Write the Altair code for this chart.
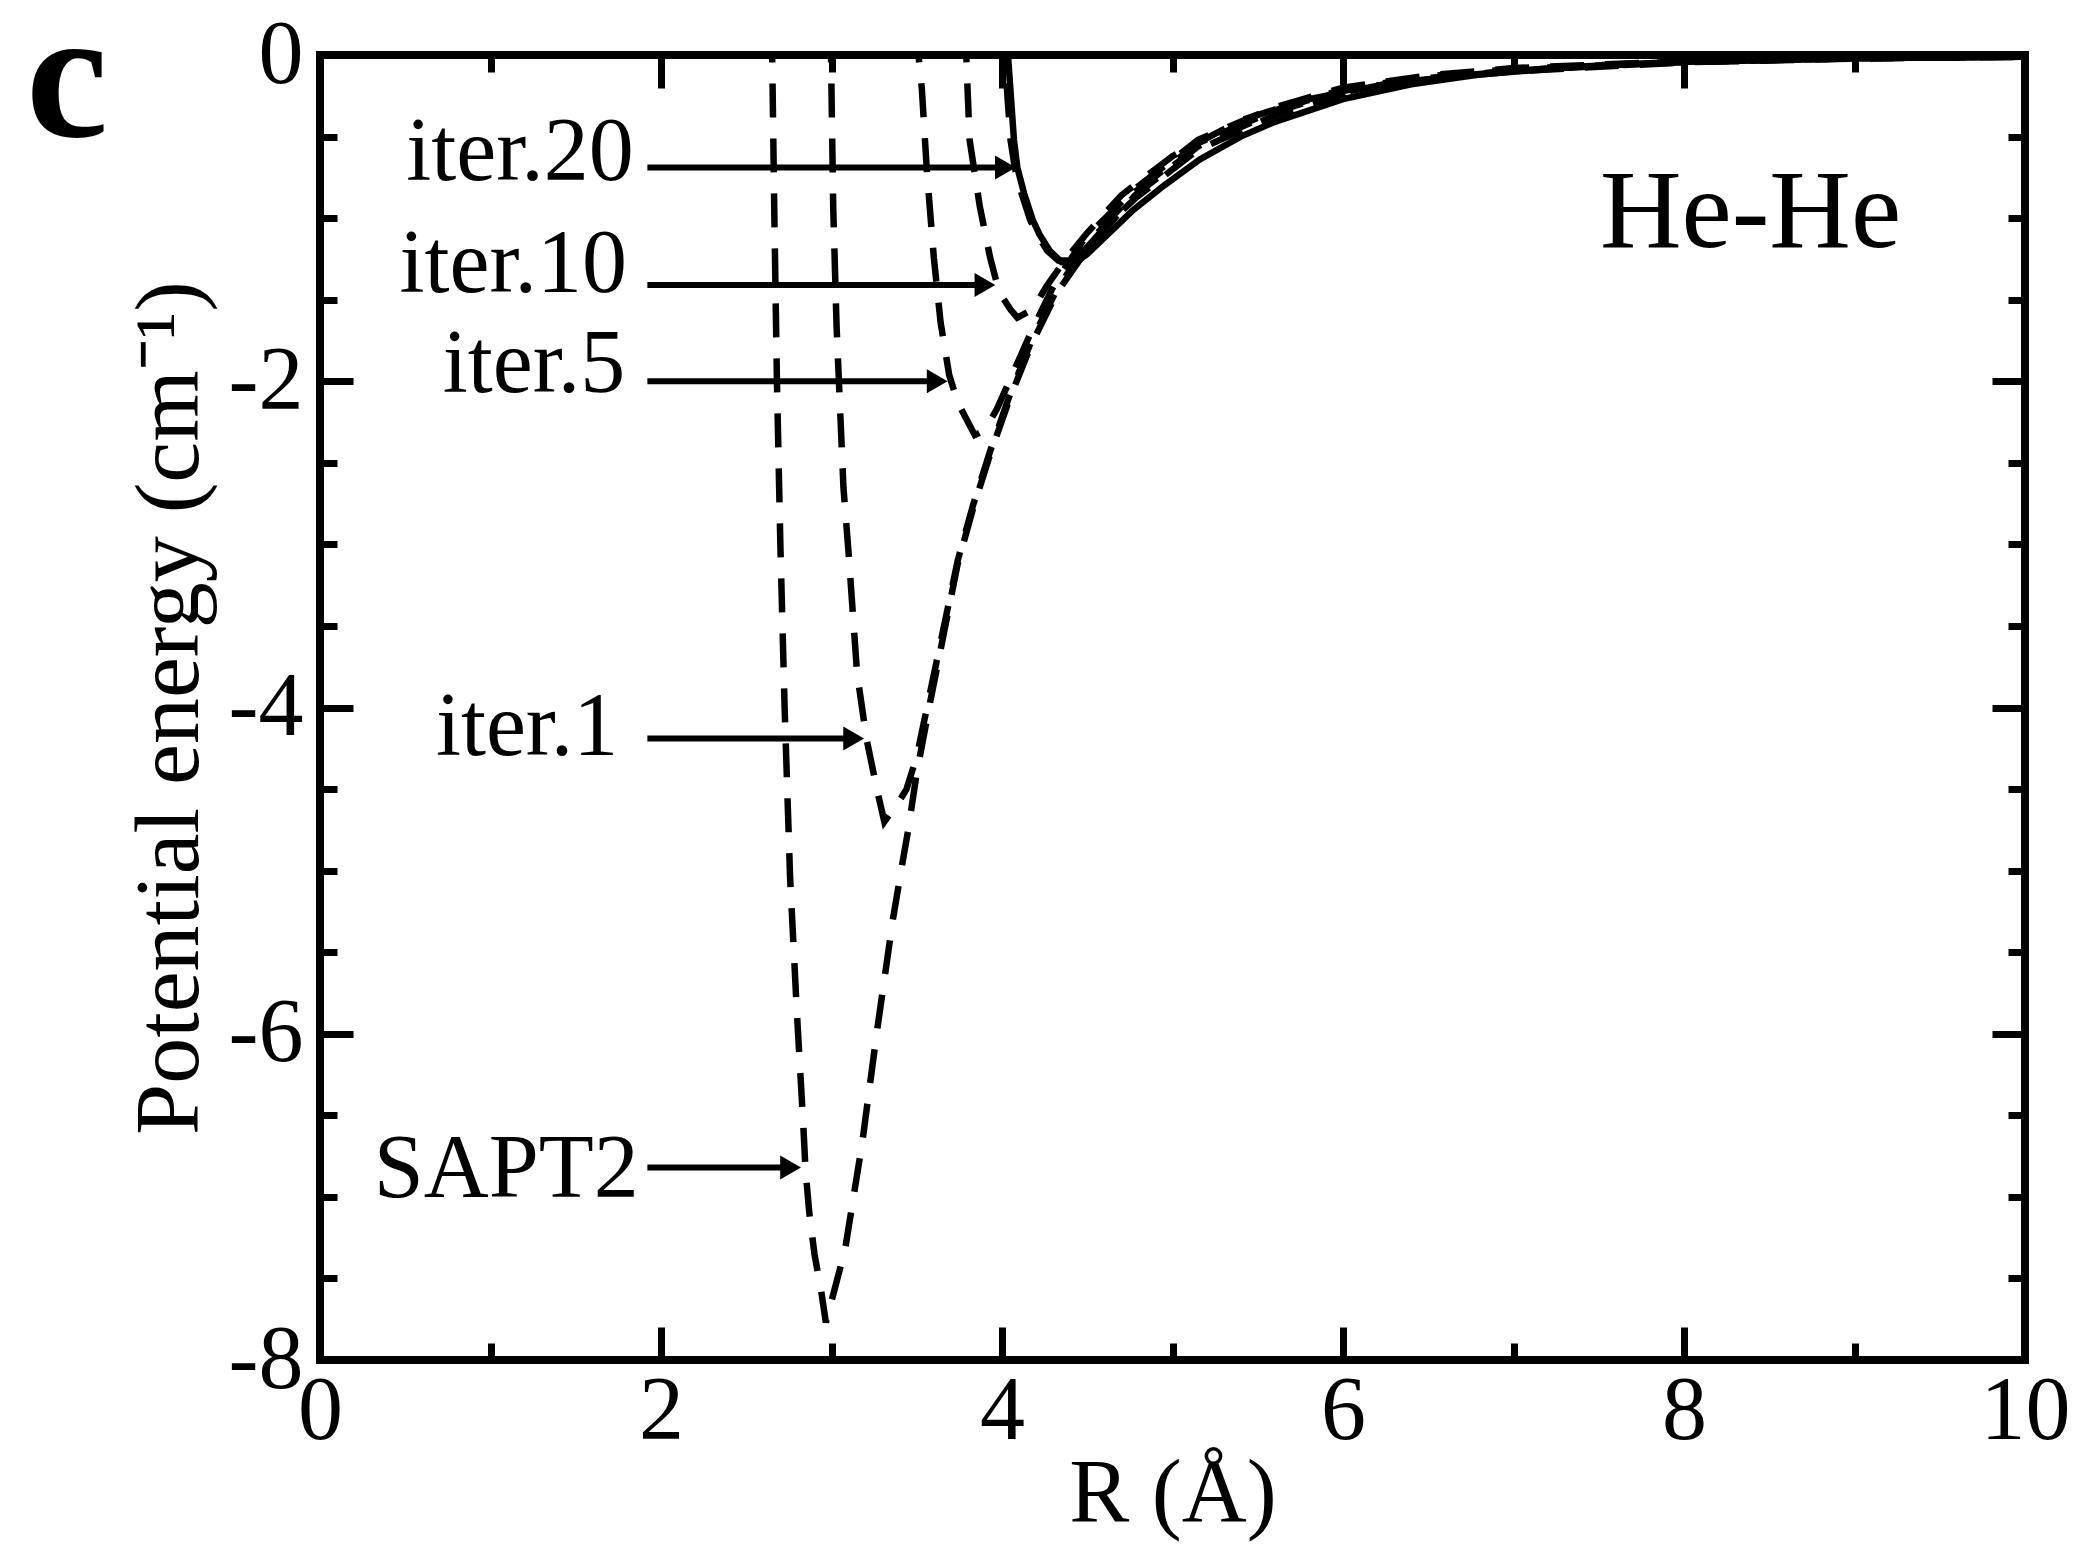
import altair as alt
import pandas as pd

FONT = "Liberation Serif"

# ---------------- curves (R in Angstrom, E in cm^-1) ----------------
sapt2_R = [2.645, 2.652, 2.665, 2.68, 2.70, 2.725, 2.757, 2.797, 2.835, 2.848, 2.87, 2.90, 2.94, 2.967,
           3.03, 3.08, 3.18, 3.27, 3.36, 3.41, 3.45, 3.50, 3.58, 3.66, 3.74, 3.83, 3.93, 4.04, 4.17,
           4.32, 4.50, 4.78, 5.15, 5.6, 6.0, 6.5, 7.0, 7.5, 8.0, 9.0, 10.0]
sapt2_E = [0.5, 0.0, -1.0, -2.0, -3.0, -4.0, -5.04, -5.87, -6.57, -6.84, -7.1, -7.35, -7.58, -7.77,
           -7.52, -7.32, -6.67, -5.96, -5.30, -4.99, -4.75, -4.40, -3.96, -3.54, -3.12, -2.78, -2.45, -2.12, -1.78,
           -1.46, -1.19, -0.86, -0.56, -0.35, -0.22, -0.14, -0.095, -0.065, -0.045, -0.022, -0.011]

iter1_R = [2.995, 2.997, 3.01, 3.03, 3.07, 3.10, 3.15, 3.205, 3.27, 3.31, 3.40, 3.44, 3.50, 3.58, 3.66,
           3.74, 3.83, 3.93, 4.04, 4.17, 4.32, 4.50, 4.78, 5.15, 5.6, 6.0, 6.5, 7.0, 8.0, 9.0, 10.0]
iter1_E = [0.5, 0.0, -0.93, -1.67, -2.65, -3.05, -3.79, -4.19, -4.52, -4.70, -4.57, -4.50, -4.30, -3.90, -3.50,
           -3.10, -2.76, -2.43, -2.10, -1.76, -1.44, -1.16, -0.84, -0.54, -0.34, -0.21, -0.13, -0.085, -0.04, -0.02, -0.01]

iter5_R = [3.505, 3.51, 3.53, 3.56, 3.60, 3.64, 3.69, 3.74, 3.84, 3.90, 3.97, 4.06, 4.17, 4.31, 4.48,
           4.78, 5.15, 5.6, 6.0, 6.5, 7.0, 8.0, 9.0, 10.0]
iter5_E = [0.5, 0.0, -0.21, -0.72, -1.24, -1.64, -1.96, -2.13, -2.33, -2.30, -2.17, -1.96, -1.70, -1.40, -1.13,
           -0.82, -0.52, -0.32, -0.20, -0.125, -0.08, -0.038, -0.018, -0.009]

iter10_R = [3.785, 3.79, 3.81, 3.87, 3.93, 3.97, 4.00, 4.05, 4.09, 4.18, 4.26, 4.36, 4.50, 4.70, 5.0,
            5.4, 5.8, 6.3, 7.0, 8.0, 9.0, 10.0]
iter10_E = [0.5, 0.0, -0.52, -0.93, -1.24, -1.40, -1.48, -1.56, -1.61, -1.56, -1.42, -1.27, -1.09, -0.86, -0.62,
            -0.40, -0.27, -0.17, -0.095, -0.042, -0.019, -0.009]

iter20_R = [4.00, 4.015, 4.05, 4.075, 4.115, 4.165, 4.205, 4.265, 4.33, 4.40, 4.48, 4.60, 4.78, 5.15,
            5.6, 6.0, 6.5, 7.0, 8.0, 9.0, 10.0]
iter20_E = [0.5, 0.0, -0.52, -0.69, -0.85, -1.01, -1.10, -1.20, -1.26, -1.26, -1.20, -1.06, -0.88, -0.58,
            -0.37, -0.24, -0.15, -0.10, -0.045, -0.02, -0.01]

solid_R = [4.025, 4.035, 4.07, 4.09, 4.13, 4.18, 4.22, 4.28, 4.35, 4.42, 4.50, 4.62, 4.77, 4.95, 5.16,
           5.40, 5.6, 6.0, 6.4, 6.8, 7.4, 8.0, 9.0, 10.0]
solid_E = [0.5, 0.0, -0.52, -0.69, -0.85, -1.01, -1.10, -1.20, -1.27, -1.28, -1.22, -1.10, -0.95, -0.80, -0.64,
           -0.50, -0.41, -0.27, -0.18, -0.12, -0.07, -0.04, -0.02, -0.01]

# ---------------- arrows and labels ----------------
arrow_labels = ["iter.20", "iter.10", "iter.5", "iter.1", "SAPT2"]
arrow_E = [-0.69, -1.41, -2.0, -4.19, -6.82]
arrow_start_R = [1.92, 1.92, 1.92, 1.92, 1.92]
arrow_tip_R = [4.09, 3.97, 3.69, 3.20, 2.83]
label_R = [1.84, 1.80, 1.79, 1.75, 1.87]
label_E = [-0.766, -1.453, -2.066, -4.29, -7.0]

x_major = [0, 2, 4, 6, 8, 10]
x_minor = [1, 3, 5, 7, 9]
y_major = [0, -2, -4, -6, -8]
y_minor = [-0.5, -1, -1.5, -2.5, -3, -3.5, -4.5, -5, -5.5, -6.5, -7, -7.5]

# ---------------- tables ----------------
series = [
    ("SAPT2", sapt2_R, sapt2_E, "dashed"),
    ("iter.1", iter1_R, iter1_E, "dashed"),
    ("iter.5", iter5_R, iter5_E, "dashed"),
    ("iter.10", iter10_R, iter10_E, "dashed"),
    ("iter.20", iter20_R, iter20_E, "dashed"),
    ("converged", solid_R, solid_E, "solid"),
]
rows = []
for name, rs, es, sty in series:
    for i, (r, e) in enumerate(zip(rs, es)):
        rows.append({"series": name, "R": r, "E": e, "idx": i, "style": sty})
curves = pd.DataFrame(rows)

arrows = pd.DataFrame({
    "label": arrow_labels, "E": arrow_E, "start": arrow_start_R, "tip": arrow_tip_R,
    "lx": label_R, "ly": label_E,
})

frame = pd.DataFrame({"R": [0, 10], "E": [0, -8]})

xscale = alt.Scale(domain=[0, 10], nice=False, zero=False)
yscale = alt.Scale(domain=[-8, 0], nice=False, zero=False)


def ax(orient, values, size, labels=False, title=None, tfs=92, **kw):
    args = dict(orient=orient, values=values, tickSize=size, offset=-size, domain=False,
                grid=False, ticks=True, tickColor="black", tickWidth=7, labels=labels)
    args["title"] = title
    if labels:
        args.update(labelFont=FONT, labelFontSize=90, labelColor="black",
                    labelFlush=False, labelOverlap=False)
    if title is not None:
        args.update(titleFont=FONT, titleFontSize=tfs, titleFontWeight="normal", titleColor="black")
    args.update(kw)
    return alt.Axis(**args)


x_bottom_major = ax("bottom", x_major, 33, labels=True, title="R (Å)", tfs=90,
                    labelPadding=7, titlePadding=-6)
x_bottom_minor = ax("bottom", x_minor, 17)
x_top_major = ax("top", x_major, 33)
x_top_minor = ax("top", x_minor, 17)
y_left_major = ax("left", y_major, 33, labels=True, title="Potential energy (cm⁻¹)",
                  labelPadding=17, titlePadding=12, labelExpr="toString(datum.value)")
y_left_minor = ax("left", y_minor, 17)
y_right_major = ax("right", y_major, 33)
y_right_minor = ax("right", y_minor, 17)

dashed = alt.Chart(curves).transform_filter("datum.style == 'dashed'").mark_line(
    clip=True, color="black", strokeWidth=6.5, strokeDash=[34, 21], strokeCap="butt"
).encode(
    x=alt.X("R:Q", scale=xscale, axis=x_bottom_major),
    y=alt.Y("E:Q", scale=yscale, axis=y_left_major),
    detail="series:N",
    order="idx:Q",
)

solid = alt.Chart(curves).transform_filter("datum.style == 'solid'").mark_line(
    clip=True, color="black", strokeWidth=6.5
).encode(
    x=alt.X("R:Q", scale=xscale, axis=None),
    y=alt.Y("E:Q", scale=yscale, axis=None),
    detail="series:N",
    order="idx:Q",
)


def axis_layer(xa, ya):
    return alt.Chart(frame).mark_point(opacity=0).encode(
        x=alt.X("R:Q", scale=xscale, axis=xa),
        y=alt.Y("E:Q", scale=yscale, axis=ya),
    )


ax2 = axis_layer(x_bottom_minor, y_left_minor)
ax3 = axis_layer(x_top_major, y_right_major)
ax4 = axis_layer(x_top_minor, y_right_minor)

arrow_base = alt.Chart(arrows).transform_calculate(head="datum.tip - 0.07")

shafts = arrow_base.mark_rule(color="black", strokeWidth=6).encode(
    x=alt.X("start:Q", scale=xscale, axis=None),
    x2="head:Q",
    y=alt.Y("E:Q", scale=yscale, axis=None),
)

heads = arrow_base.mark_point(shape="triangle-right", filled=True, size=576, color="black", opacity=1).encode(
    x=alt.X("head:Q", scale=xscale, axis=None),
    y=alt.Y("E:Q", scale=yscale, axis=None),
)

labels = arrow_base.mark_text(align="right", baseline="alphabetic", font=FONT, fontSize=90, color="black").encode(
    x=alt.X("lx:Q", scale=xscale, axis=None),
    y=alt.Y("ly:Q", scale=yscale, axis=None),
    text="label:N",
)

annot = pd.DataFrame({"txt": ["He-He"], "x": [8.39], "y": [-1.18]})
hehe = alt.Chart(annot).mark_text(align="center", baseline="alphabetic", font=FONT, fontSize=113,
                                  color="black").encode(
    x=alt.X("x:Q", scale=xscale, axis=None),
    y=alt.Y("y:Q", scale=yscale, axis=None),
    text="txt:N",
)

panel = pd.DataFrame({"txt": ["c"], "x": [-1.484], "y": [-0.497]})
panel_c = alt.Chart(panel).mark_text(align="center", baseline="alphabetic", font=FONT, fontSize=185,
                                     fontWeight="bold", color="black").encode(
    x=alt.X("x:Q", scale=xscale, axis=None),
    y=alt.Y("y:Q", scale=yscale, axis=None),
    text="txt:N",
)

chart = alt.layer(
    dashed, solid, ax2, ax3, ax4, shafts, heads, labels, hehe, panel_c
).resolve_axis(
    x="independent", y="independent"
).properties(
    width=1705, height=1305,
    autosize=alt.AutoSizeParams(type="none"),
    padding={"left": 312, "top": 47, "right": 45, "bottom": 188},
    background="white",
).configure_view(
    stroke="black", strokeWidth=8
)

chart.save("out.html", embed_options={"renderer": "svg", "actions": False})
